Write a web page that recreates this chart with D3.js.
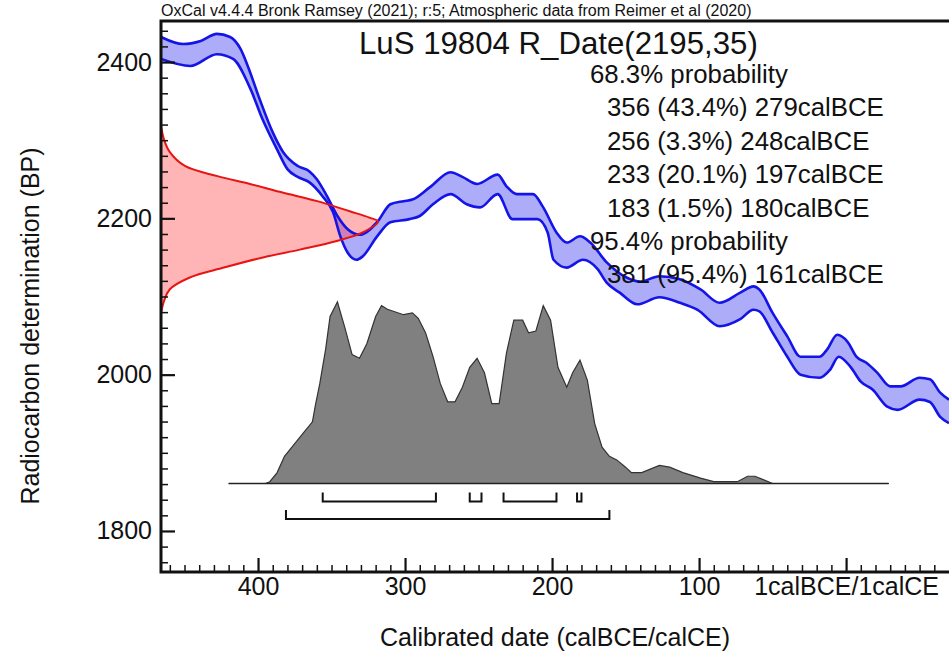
<!DOCTYPE html>
<html>
<head>
<meta charset="utf-8">
<script src="https://cdn.jsdelivr.net/npm/d3@7"></script>
<style>
  body { margin: 0; background: #fff; }
  text { font-family: Arial, "Liberation Sans", sans-serif; fill: #111; }
</style>
</head>
<body>
<svg id="chart" width="949" height="654"></svg>
<script>
// calibration curve, upper edge (year calBCE, BP)
const hiYears = [466,451,439,428,419,412,407,399,390,383,373,365,360,353,346,339,331,319,310,301,295,283,269,261,251,237,231,224,213,206,197,190,181,174,163,149,140,127,113,99,86,72,63,59,50,40,31,18,13,6,-1,-7,-14,-21,-30,-37,-50,-57,-64,-70];
const hiBP = [2432,2423,2427,2436,2432,2417,2395,2353,2310,2285,2267,2260,2250,2228,2203,2186,2179,2195,2218,2222,2224,2240,2259,2253,2244,2256,2241,2231,2231,2214,2182,2169,2177,2169,2144,2124,2119,2126,2122,2109,2092,2105,2113,2109,2079,2049,2023,2023,2032,2051,2042,2023,2015,2003,1985,1985,1996,1994,1977,1968];
// lower edge
const loYears = [466,446,428,417,405,397,387,380,373,365,356,349,344,339,333,329,319,310,297,290,281,269,258,249,237,227,217,210,203,199,190,179,169,163,154,142,127,113,101,86,72,63,59,50,40,31,18,11,5,-3,-10,-18,-28,-35,-50,-57,-64,-70];
const loBP = [2404,2395,2410,2404,2365,2327,2288,2263,2253,2246,2228,2208,2177,2156,2147,2151,2177,2195,2199,2203,2218,2231,2218,2214,2231,2199,2199,2199,2182,2147,2137,2147,2135,2118,2105,2090,2099,2092,2083,2062,2071,2083,2081,2054,2023,2000,1996,2006,2023,2010,1991,1981,1959,1955,1968,1965,1946,1938];

// measured date R_Date(2195,35), relative density
const dateBP = [2318,2300,2285,2267,2254,2244,2233,2222,2209,2201,2196,2182,2171,2160,2150,2137,2124,2109,2095,2079];
const dateDens = [0.0,0.015,0.04,0.11,0.26,0.41,0.56,0.72,0.87,0.96,1.0,0.93,0.81,0.64,0.47,0.29,0.13,0.04,0.015,0.0];

// calibrated probability
const histYears = [420,395,392,387,382,376,369,363,361,358,354,351,346,341,336,331,326,320,316,312,301,295,291,286,281,276,271,266,261,256,251,246,241,236,231,226,220,216,211,206,201,196,190,186,181,176,171,166,161,156,150,146,139,127,120,111,99,90,81,74,67,62,56,50,-29];
const histProb = [0,0,0.01,0.06,0.15,0.21,0.28,0.34,0.43,0.55,0.74,0.92,1.0,0.86,0.71,0.69,0.77,0.92,0.98,0.96,0.93,0.94,0.91,0.83,0.70,0.55,0.45,0.45,0.53,0.64,0.69,0.61,0.44,0.44,0.72,0.90,0.90,0.83,0.84,0.98,0.90,0.64,0.53,0.61,0.68,0.57,0.33,0.20,0.15,0.13,0.09,0.06,0.06,0.10,0.09,0.06,0.03,0.01,0.01,0.01,0.04,0.04,0.02,0,0];

// ranges [from, to, percent]
const ranges68 = [[356,279,43.4],[256,248,3.3],[233,197,20.1],[183,180,1.5]];
const ranges95 = [[381,161,95.4]];

const xTickVals = [400,300,200,100,0];
const xTickLabels = ["400","300","200","100","1calBCE/1calCE"];
const yTickVals = [1800,2000,2200,2400];

const svg = d3.select("#chart");
const L = 161, R = 949, T = 21, B = 572;

const x = d3.scaleLinear().domain([466, -70]).range([L, R]);
const y = d3.scaleLinear().domain([1747.5, 2452.5]).range([B, T]);
const xd = d3.scaleLinear().domain([0, 1]).range([L, 378]);
const yp = d3.scaleLinear().domain([0, 1]).range([483.5, 302]);

svg.append("defs").append("clipPath").attr("id", "plotclip")
  .append("rect").attr("x", L).attr("y", T).attr("width", R - L).attr("height", B - T);

const plot = svg.append("g").attr("clip-path", "url(#plotclip)");

// probability histogram
const histPts = histYears.map((d, i) => [d, histProb[i]]);
plot.append("path")
  .datum(histPts)
  .attr("d", d3.area().x(d => x(d[0])).y0(yp(0)).y1(d => yp(d[1])))
  .attr("fill", "#808080")
  .attr("stroke", "#333")
  .attr("stroke-width", 1.2);
plot.append("line")
  .attr("x1", x(histYears[0])).attr("x2", x(histYears[histYears.length - 1]))
  .attr("y1", yp(0)).attr("y2", yp(0))
  .attr("stroke", "#222").attr("stroke-width", 1.5);

// calibration curve band
const hi = hiYears.map((d, i) => [x(d), y(hiBP[i])]);
const lo = loYears.map((d, i) => [x(d), y(loBP[i])]);
const line = d3.line().curve(d3.curveMonotoneX);
plot.append("path")
  .attr("d", line(hi) + "L" + line(lo.slice().reverse()).slice(1) + "Z")
  .attr("fill", "rgba(70,70,240,0.45)");

// measured date
const datePts = dateBP.map((d, i) => [xd(dateDens[i]), y(d)]);
const dline = d3.line().curve(d3.curveCatmullRom.alpha(0.5));
plot.append("path")
  .attr("d", dline(datePts) + "L" + L + "," + y(dateBP[dateBP.length - 1]) + "L" + L + "," + y(dateBP[0]) + "Z")
  .attr("fill", "rgba(255,60,60,0.38)");

plot.append("path").attr("d", line(hi)).attr("fill", "none").attr("stroke", "#1414e8").attr("stroke-width", 2.6);
plot.append("path").attr("d", line(lo)).attr("fill", "none").attr("stroke", "#1414e8").attr("stroke-width", 2.6);
plot.append("path").attr("d", dline(datePts)).attr("fill", "none").attr("stroke", "#e81414").attr("stroke-width", 2);

// range brackets
function bracket(rs, yy) {
  rs.forEach(r => {
    svg.append("path")
      .attr("d", `M${x(r[0])},${yy - 9}V${yy}H${x(r[1])}V${yy - 9}`)
      .attr("fill", "none").attr("stroke", "#111").attr("stroke-width", 2);
  });
}
bracket(ranges68, 501.5);
bracket(ranges95, 519);

// axes
const yMinor = d3.range(1760, 2441, 20).filter(v => !yTickVals.includes(v));
svg.append("g").attr("transform", `translate(${L},0)`)
  .call(d3.axisLeft(y).tickValues(yMinor).tickSize(-7).tickFormat(""))
  .call(g => g.select(".domain").remove())
  .selectAll("line").attr("stroke", "#111").attr("stroke-width", 1.5);
const yAx = svg.append("g").attr("transform", `translate(${L},0)`)
  .call(d3.axisLeft(y).tickValues(yTickVals).tickSize(-14).tickPadding(9).tickFormat(d3.format("d")))
  .call(g => g.select(".domain").remove());
yAx.selectAll("line").attr("stroke", "#111").attr("stroke-width", 2.2);
yAx.selectAll("text").attr("font-size", 25).attr("fill", "#111");

const xMinor = d3.range(-60, 461, 10).filter(v => !xTickVals.includes(v));
svg.append("g").attr("transform", `translate(0,${B})`)
  .call(d3.axisBottom(x).tickValues(xMinor).tickSize(-7).tickFormat(""))
  .call(g => g.select(".domain").remove())
  .selectAll("line").attr("stroke", "#111").attr("stroke-width", 1.5);
const xAx = svg.append("g").attr("transform", `translate(0,${B})`)
  .call(d3.axisBottom(x).tickValues(xTickVals).tickSize(-14).tickPadding(5)
    .tickFormat((d, i) => xTickLabels[i]))
  .call(g => g.select(".domain").remove());
xAx.selectAll("line").attr("stroke", "#111").attr("stroke-width", 2.2);
xAx.selectAll("text").attr("font-size", 25).attr("fill", "#111");

// frame
svg.append("path")
  .attr("d", `M${R + 5},${T}H${L}V${B}H${R + 5}`)
  .attr("fill", "none").attr("stroke", "#111").attr("stroke-width", 3);

// texts
svg.append("text").attr("x", L).attr("y", 16).attr("font-size", 16)
  .text("OxCal v4.4.4 Bronk Ramsey (2021); r:5; Atmospheric data from Reimer et al (2020)");
svg.append("text").attr("x", 359).attr("y", 54).attr("font-size", 31.2)
  .text("LuS 19804 R_Date(2195,35)");

const probLines = [{t: "68.3% probability", ind: false}]
  .concat(ranges68.map(r => ({t: `${r[0]} (${r[2]}%) ${r[1]}calBCE`, ind: true})))
  .concat([{t: "95.4% probability", ind: false}])
  .concat(ranges95.map(r => ({t: `${r[0]} (${r[2]}%) ${r[1]}calBCE`, ind: true})));
svg.selectAll("text.prob").data(probLines).join("text")
  .attr("class", "prob")
  .attr("x", d => d.ind ? 607 : 590)
  .attr("y", (d, i) => 83 + i * 33.4)
  .attr("font-size", 25.8)
  .text(d => d.t);

svg.append("text").attr("x", (L + R) / 2).attr("y", 646).attr("text-anchor", "middle")
  .attr("font-size", 25).text("Calibrated date (calBCE/calCE)");
svg.append("text").attr("transform", "translate(39,326) rotate(-90)").attr("text-anchor", "middle")
  .attr("font-size", 25).text("Radiocarbon determination (BP)");
</script>
</body>
</html>
